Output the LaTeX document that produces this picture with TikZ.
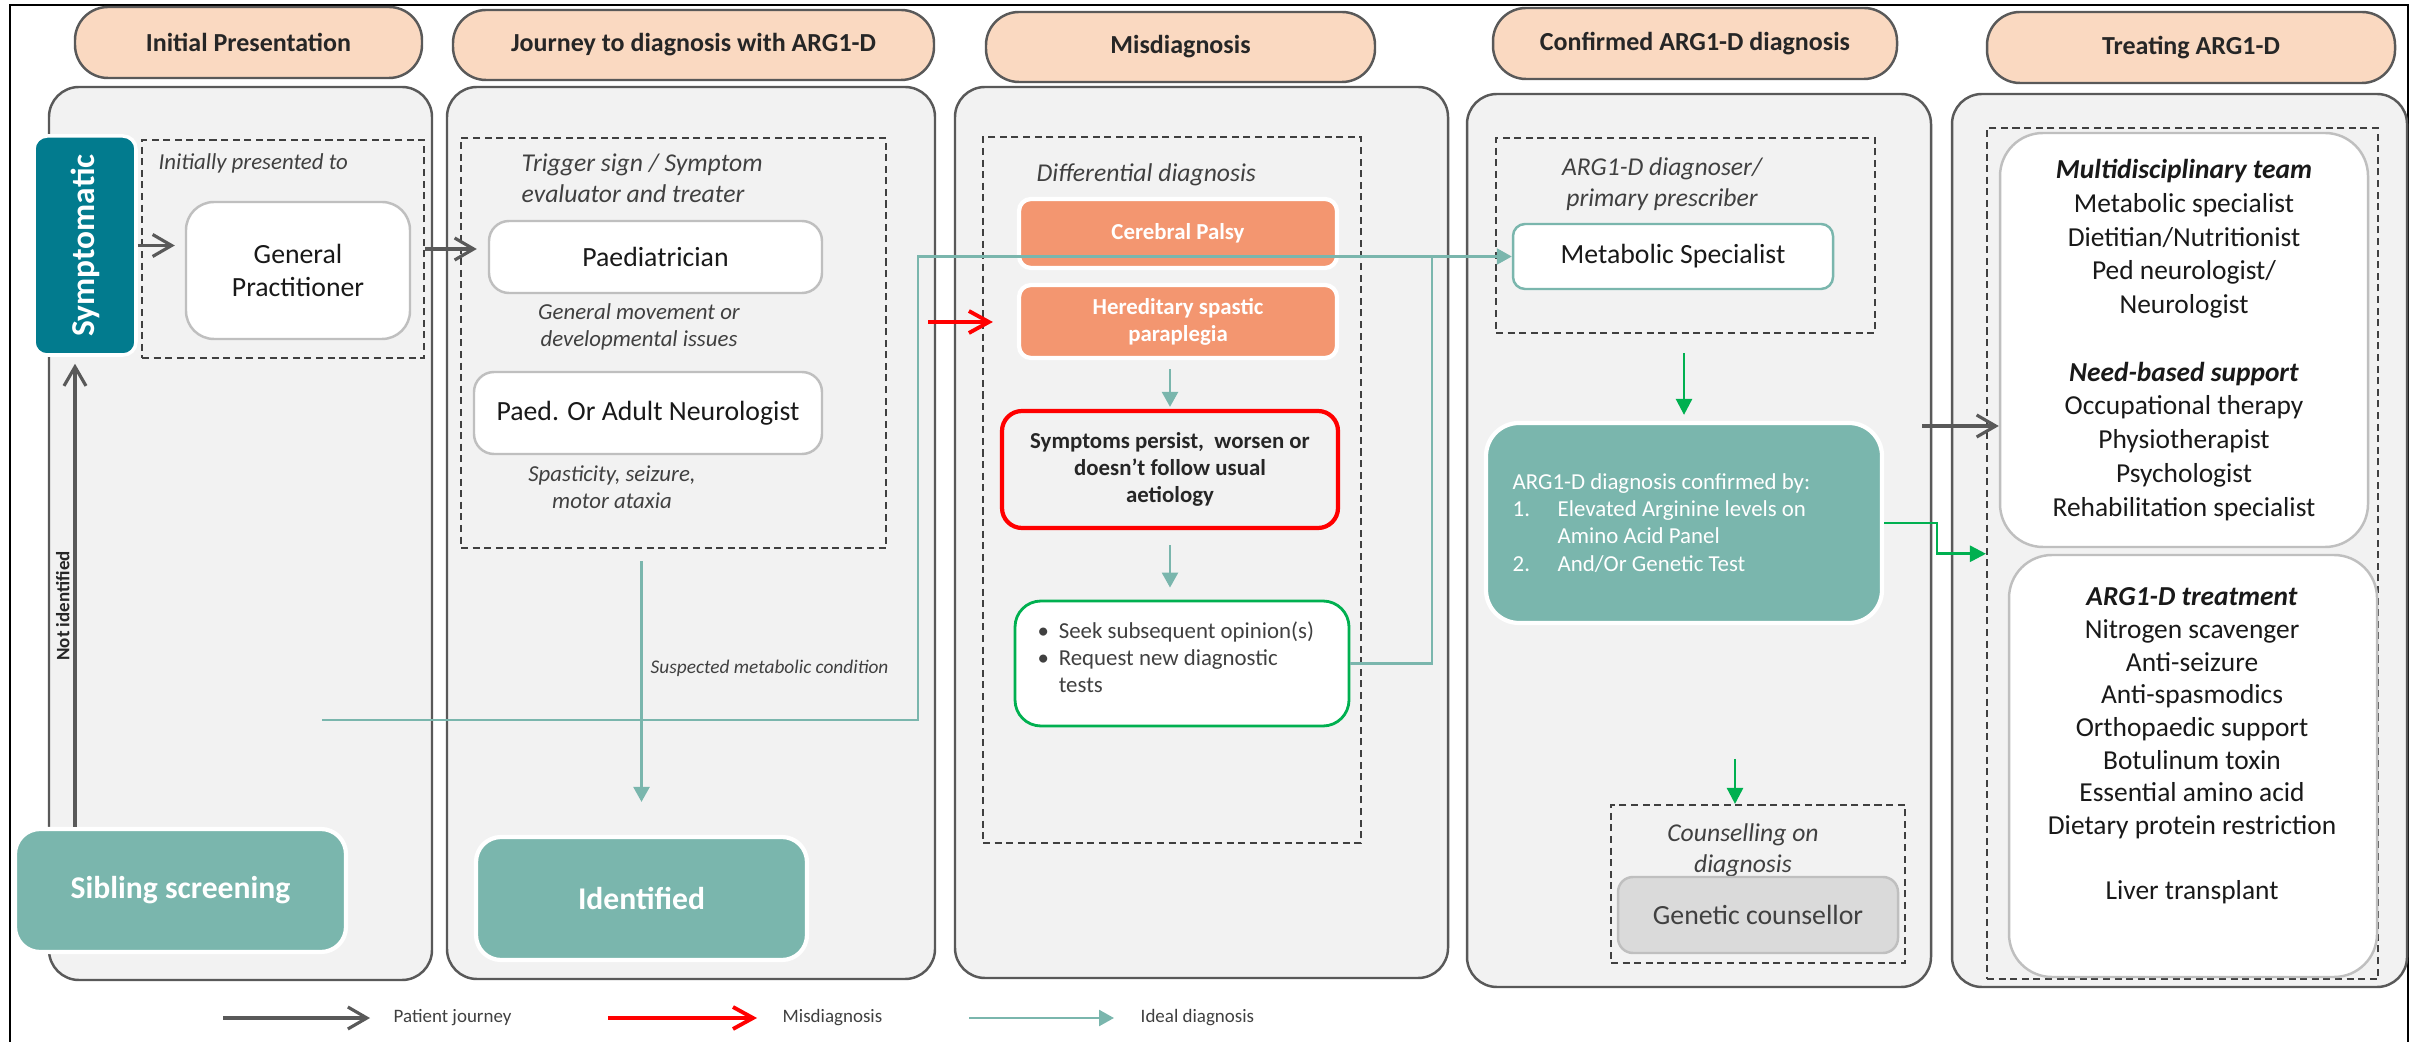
\documentclass[tikz,border=0pt]{standalone}
\usepackage{fontspec}
\setmainfont{Carlito}
\usetikzlibrary{arrows.meta,positioning,fit}

\definecolor{peach}{RGB}{250,217,193}
\definecolor{panelgray}{RGB}{242,242,242}
\definecolor{edge}{RGB}{89,89,89}
\definecolor{ink}{RGB}{38,38,38}
\definecolor{softink}{RGB}{64,64,64}
\definecolor{softline}{RGB}{191,191,191}
\definecolor{symteal}{RGB}{2,123,142}
\definecolor{sage}{RGB}{122,182,173}
\definecolor{salmon}{RGB}{243,150,112}
\definecolor{misred}{RGB}{255,0,0}
\definecolor{okgreen}{RGB}{0,176,80}
\definecolor{counselgray}{RGB}{218,218,218}

\newcommand{\fhead}{\fontsize{7.4}{8.6}\selectfont\bfseries}
\newcommand{\fsym}{\fontsize{9.5}{11}\selectfont\bfseries}
\newcommand{\fname}{\fontsize{7.9}{9.4}\selectfont}
\newcommand{\fnote}{\fontsize{7.3}{8.8}\selectfont\itshape}
\newcommand{\fnotesm}{\fontsize{6.5}{7.8}\selectfont\itshape}
\newcommand{\ftiny}{\fontsize{5.5}{6.5}\selectfont\itshape}
\newcommand{\fsmall}{\fontsize{6.5}{7.7}\selectfont}
\newcommand{\fbold}{\fontsize{6.5}{7.7}\selectfont\bfseries}
\newcommand{\flist}{\fontsize{7.8}{9.6}\selectfont}
\newcommand{\flisttight}{\fontsize{7.8}{9.3}\selectfont}
\newcommand{\fbig}{\fontsize{9}{10.8}\selectfont\bfseries}
\newcommand{\flegend}{\fontsize{5.4}{6.5}\selectfont}

\begin{document}
\begin{tikzpicture}[x=0.1mm,y=-0.1mm,
    head/.style={draw=edge,fill=peach,line width=0.7pt,rounded corners=3.3mm,inner sep=0pt,text=ink,font=\fhead},
    panel/.style={draw=edge,fill=panelgray,line width=0.7pt,rounded corners=3mm,inner sep=0pt},
    dashbox/.style={draw=softink,dash pattern=on 2pt off 1.3pt,line width=0.6pt,inner sep=0pt},
    whitebox/.style={draw=softline,fill=white,line width=0.7pt,rounded corners=2mm,inner sep=0pt,align=center,text=black!90,font=\fname},
    sagebox/.style={draw=white,fill=sage,line width=1.2pt,rounded corners=2.5mm,inner sep=0pt,text=white,font=\fbig},
    ddxbox/.style={draw=white,fill=salmon,line width=1.2pt,rounded corners=1.2mm,inner sep=0pt,text=white,align=center,font=\fbold},
    note/.style={inner sep=0pt,text=softink,font=\fnote},
    journey/.style={draw=edge,line width=0.9pt,-{Straight Barb[length=1.9mm,width=2.2mm]}},
    misdiag/.style={draw=misred,line width=1.1pt,-{Straight Barb[length=2mm,width=2.2mm]}},
    ideal/.style={draw=sage,line width=0.7pt,-{Triangle[length=1.5mm,width=1.6mm]}},
    idealline/.style={draw=sage,line width=0.7pt},
    confirm/.style={draw=okgreen,line width=0.75pt,-{Triangle[length=1.6mm,width=1.6mm]}},
    legend/.style={inner sep=0pt,text=softink,font=\flegend}]

  \useasboundingbox (0,0) rectangle (2417,1042);
  \draw[line width=0.7pt] (10,1042) -- (10,5) -- (2408,5) -- (2408,1042);

  % stage headers
  \node[head,minimum width=34.7mm,minimum height=7.1mm] (hInit) at (248.5,42.5) {Initial Presentation};
  \node[head,minimum width=48.1mm,minimum height=7mm] (hJourney) at (693.5,45) {Journey to diagnosis with ARG1-D};
  \node[head,minimum width=38.9mm,minimum height=7mm] (hMis) at (1180.5,47) {Misdiagnosis};
  \node[head,minimum width=40.4mm,minimum height=7.1mm] (hConf) at (1695,43.5) {Confirmed ARG1-D diagnosis};
  \node[head,minimum width=40.8mm,minimum height=7.1mm] (hTreat) at (2191,47.5) {Treating ARG1-D};

  % stage panels
  \node[panel,fit={(49,87) (432,980)}] (pInit) {};
  \node[panel,fit={(447,87) (935,979)}] (pJourney) {};
  \node[panel,fit={(955,87) (1448,978)}] (pMis) {};
  \node[panel,fit={(1467,94) (1931,987)}] (pConf) {};
  \node[panel,fit={(1952,94) (2407,987)}] (pTreat) {};

  \node[dashbox,fit={(142,140) (424,358)}] (ipbox) {};
  \node[dashbox,fit={(461,138) (886,548)}] (c2box) {};
  \node[dashbox,fit={(983,137) (1361,843)}] (c3box) {};
  \node[dashbox,fit={(1496,138) (1875,333)}] (c4box) {};
  \node[dashbox,fit={(1611,805) (1905,963)}] (cbox) {};
  \node[dashbox,fit={(1987,128) (2378,979)}] (c5box) {};

  % initial presentation
  \node[draw=white,fill=symteal,line width=1pt,rounded corners=1.3mm,inner sep=0pt,fit={(34,136) (136,355)}] (sym) {};
  \node[rotate=90,text=white,font=\fsym] (symlabel) at (sym.center) {Symptomatic};
  \node[note,anchor=west,font=\fnotesm] (ipnote) at (158,163) {Initially presented to};
  \node[whitebox,rounded corners=2.8mm,minimum width=22.4mm,minimum height=13.7mm] (gp) at (298,270.5) {General\\Practitioner};
  \node[sagebox,minimum width=33.1mm,minimum height=12.3mm] (sib) at (180.5,890.5) {Sibling screening};

  % journey to diagnosis
  \node[note,anchor=west,align=left] (trignote) at (521,178) {Trigger sign / Symptom\\evaluator and treater};
  \node[whitebox,minimum width=33.3mm,minimum height=7.2mm] (paed) at (655.5,257) {Paediatrician};
  \node[note,font=\fnotesm,align=center] (paednote) at (639,327) {General movement or\\developmental issues};
  \node[whitebox,minimum width=34.8mm,minimum height=8.2mm] (neuro) at (648,413) {Paed. Or Adult Neurologist};
  \node[note,font=\fnotesm,align=center] (neuronote) at (612,487) {Spasticity, seizure,\\motor ataxia};
  \node[sagebox,minimum width=33.1mm,minimum height=12.3mm] (ident) at (641.5,898.5) {Identified};

  % misdiagnosis
  \node[note,anchor=west] (ddxnote) at (1036,175) {Differential diagnosis};
  \node[ddxbox,minimum width=31.8mm,minimum height=6.9mm] (cp) at (1178,233.5) {Cerebral Palsy};
  \node[ddxbox,minimum width=31.8mm,minimum height=7.3mm] (hsp) at (1178,321.5) {Hereditary spastic\\paraplegia};
  \node[draw=misred,fill=panelgray,line width=1.2pt,rounded corners=2mm,inner sep=0pt,align=center,text=ink,font=\fbold,minimum width=33.6mm,minimum height=11.7mm] (persist) at (1170,469.5) {Symptoms persist, \ worsen or\\doesn’t follow usual\\aetiology};
  \node[draw=okgreen,fill=white,line width=0.8pt,rounded corners=2.6mm,inner sep=0pt,fit={(1015,601) (1349,726)}] (seek) {};
  \node[anchor=west,align=left,inner sep=0pt,text=softink,font=\fsmall] (seektext) at (1037,657)
    {\makebox[6pt][l]{\textbullet}Seek subsequent opinion(s)\\\makebox[6pt][l]{\textbullet}Request new diagnostic\\\hspace*{6pt}tests};

  % confirmed diagnosis
  \node[note,align=center] (dxnote) at (1662,184) {ARG1-D diagnoser/\\primary prescriber};
  \node[whitebox,draw=sage,rounded corners=1.2mm,minimum width=32mm,minimum height=6.5mm] (ms) at (1673,256.5) {Metabolic Specialist};
  \node[sagebox,rounded corners=3.3mm,fit={(1486,423) (1882,623)}] (conf) {};
  \node[anchor=west,align=left,inner sep=0pt,text=white,font=\fsmall] (conftext) at (1512,523)
    {ARG1-D diagnosis confirmed by:\\\makebox[12.8pt][l]{1.}Elevated Arginine levels on\\\hspace*{12.8pt}Amino Acid Panel\\\makebox[12.8pt][l]{2.}And/Or Genetic Test};
  \node[note,align=center] (gcnote) at (1743,850) {Counselling on\\diagnosis};
  \node[whitebox,fill=counselgray,text=softink,rounded corners=1.5mm,minimum width=28mm,minimum height=7.6mm] (gc) at (1758,915) {Genetic counsellor};

  % treating
  \node[whitebox,rounded corners=4.3mm,font=\flist,minimum width=36.8mm,minimum height=41.4mm] (mdt) at (2184,340)
    {\textbf{\textit{Multidisciplinary team}}\\Metabolic specialist\\Dietitian/Nutritionist\\Ped neurologist/\\Neurologist\\[9.6pt]
     \textbf{\textit{Need-based support}}\\Occupational therapy\\Physiotherapist\\Psychologist\\Rehabilitation specialist};
  \node[whitebox,rounded corners=4.3mm,fit={(2009,555) (2377,977)}] (treat) {};
  \node[align=center,inner sep=0pt,text=black!90,font=\flisttight] (treattext) at (2192,746)
    {\textbf{\textit{ARG1-D treatment}}\\Nitrogen scavenger\\Anti-seizure\\Anti-spasmodics\\Orthopaedic support\\Botulinum toxin\\Essential amino acid\\Dietary protein restriction\\[9.3pt]Liver transplant};

  % connectors
  \coordinate (idealstart) at (322,720);
  \coordinate (idealturn) at (918,720);
  \coordinate (seekjoin) at (1432,257);
  \coordinate (misstart) at (928,322);
  \coordinate (jstart) at (1922,426);

  \draw[journey,shorten >=1mm] (sym.east) -- (sym.east -| gp.west);
  \draw[journey,shorten >=1.1mm] (ipbox.east) -- (ipbox.east -| paed.west);
  \draw[journey,shorten >=0.7mm] ([xshift=-1mm]sym.south |- sib.north) -- ([xshift=-1mm]sym.south)
    node[pos=0.47,sloped,above=0.4mm,inner sep=0pt,text=ink,font=\fontsize{5.4}{6}\selectfont\bfseries] {Not identified};
  \draw[ideal,shorten >=3.3mm] ([yshift=-1.2mm]c2box.south -| ident.north) -- (ident.north)
    node[pos=0.39,right=0.8mm,inner sep=0pt,text=softink,font=\ftiny] {Suspected metabolic condition};
  \draw[ideal] (idealstart) -- (idealturn) |- (ms.west);
  \draw[idealline] (seek.east) -| (seekjoin);
  \draw[misdiag,shorten >=2.4mm] (misstart) -- (misstart -| hsp.west);
  \draw[ideal,shorten >=0.2mm] ([yshift=-0.9mm]hsp.south -| persist.north) -- (persist.north);
  \draw[ideal,shorten >=1.2mm] ([yshift=-1.5mm]persist.south) -- (persist.south |- seek.north);
  \draw[confirm,shorten >=0.6mm] ([yshift=-1.9mm]c4box.south -| conf.north) -- (conf.north);
  \draw[confirm] ([xshift=-2.3mm,yshift=4.5mm]cbox.north) -- ([xshift=-2.3mm]cbox.north);
  \draw[confirm] (conf.east) -- ++(5.3mm,0) |- (c5box.west |- treat.north);
  \draw[journey] (jstart) -- (jstart -| mdt.west);

  % legend
  \node[legend,anchor=west] (lgjourney) at (393,1018) {Patient journey};
  \node[legend,anchor=west] (lgmis) at (782,1018) {Misdiagnosis};
  \node[legend,anchor=west] (lgideal) at (1140,1018) {Ideal diagnosis};
  \draw[journey] ([xshift=-17mm]lgjourney.west) -- ([xshift=-2.3mm]lgjourney.west);
  \draw[misdiag] ([xshift=-17.4mm]lgmis.west) -- ([xshift=-2.5mm]lgmis.west);
  \draw[ideal] ([xshift=-17.1mm]lgideal.west) -- ([xshift=-2.6mm]lgideal.west);
\end{tikzpicture}
\end{document}
